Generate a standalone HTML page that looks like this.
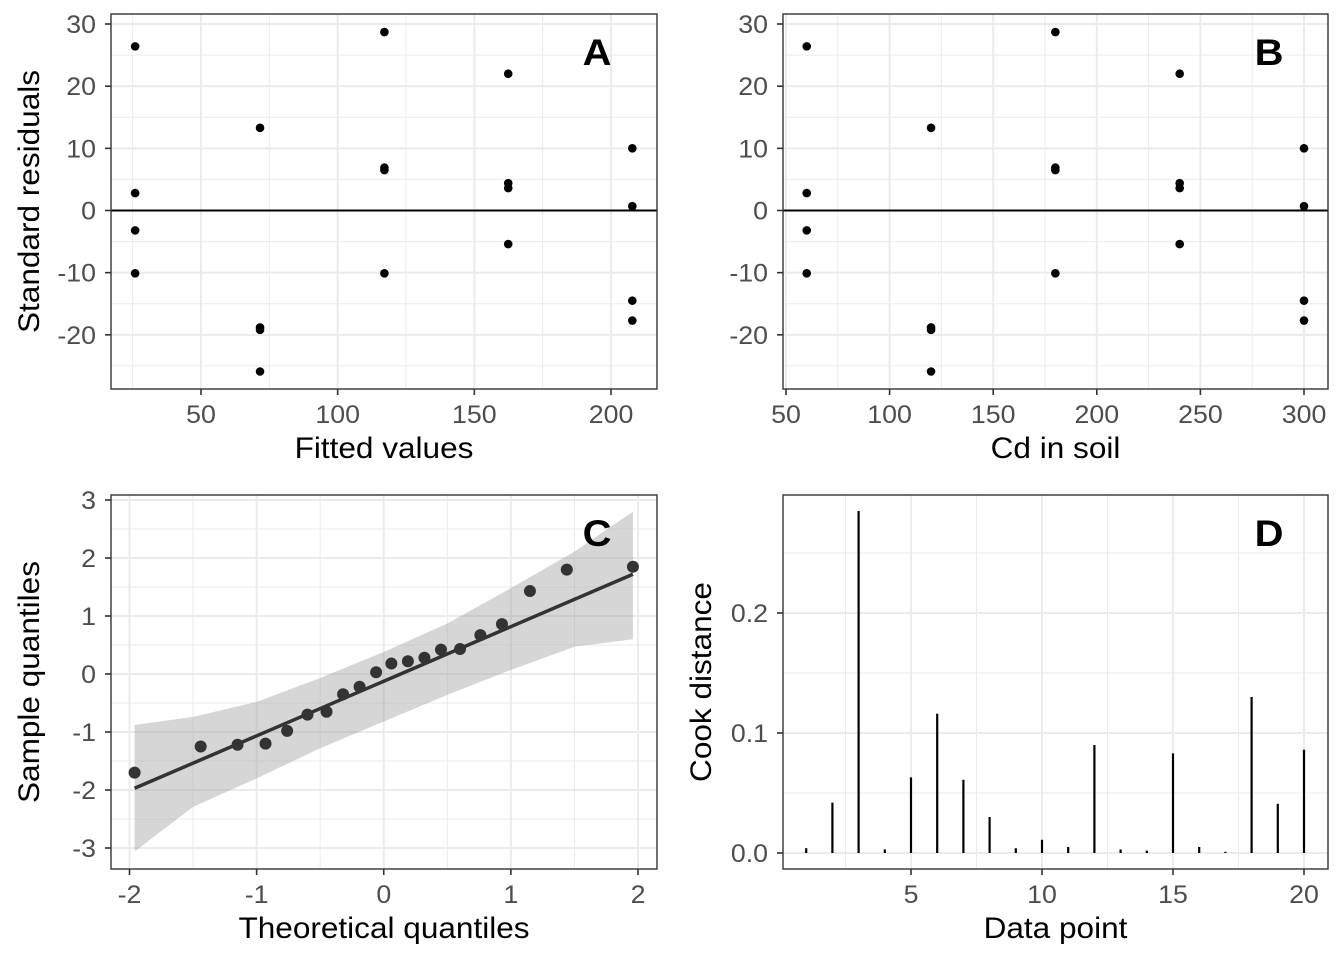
<!DOCTYPE html>
<html><head><meta charset="utf-8"><style>
body{margin:0;background:#fff;}
svg text{font-family:"Liberation Sans",Arial,sans-serif;}
</style></head><body>
<svg id="chart" width="1344" height="960" xmlns="http://www.w3.org/2000/svg"></svg>
<script>
// Panel A/B data
const cdLevels = [60, 120, 180, 240, 300];
const fittedLevels = [25.9, 71.6, 117.1, 162.4, 207.8];
const residuals = [
  [26.4, 2.8, -3.2, -10.1],
  [13.3, -18.8, -19.2, -25.9],
  [28.7, 6.9, 6.5, -10.1],
  [22.0, 4.4, 3.6, -5.4],
  [10.0, 0.7, -14.5, -17.7]
];
// Panel C data
const theoQ = [-1.96,-1.44,-1.15,-0.93,-0.76,-0.60,-0.45,-0.32,-0.19,-0.06,0.06,0.19,0.32,0.45,0.60,0.76,0.93,1.15,1.44,1.96];
const sampleQ = [-1.70,-1.25,-1.22,-1.20,-0.98,-0.70,-0.65,-0.35,-0.22,0.03,0.18,0.22,0.28,0.42,0.43,0.67,0.86,1.43,1.80,1.85];
const qqLineX = [-1.96, 1.96];
const qqLineY = [-1.97, 1.72];
const bandX = [-1.96,-1.5,-1.0,-0.5,0,0.5,1.0,1.5,1.96];
const bandLow = [-3.06,-2.29,-1.80,-1.28,-0.82,-0.36,0.07,0.47,0.60];
const bandHigh = [-0.88,-0.74,-0.48,-0.07,0.38,0.87,1.48,2.11,2.80];
// Panel D data
const dataPoints = [1,2,3,4,5,6,7,8,9,10,11,12,13,14,15,16,17,18,19,20];
const cookD = [0.004,0.042,0.285,0.003,0.063,0.116,0.061,0.030,0.004,0.011,0.005,0.090,0.003,0.002,0.083,0.005,0.001,0.130,0.041,0.086];
// tick labels
const ticksA_x=[50,100,150,200], ticksB_x=[50,100,150,200,250,300], ticksAB_y=[-20,-10,0,10,20,30];
const ticksC_x=[-2,-1,0,1,2], ticksC_y=[-3,-2,-1,0,1,2,3];
const ticksD_x=[5,10,15,20], ticksD_y=[0,0.1,0.2];

const svg=document.getElementById('chart');
const NS='http://www.w3.org/2000/svg';
const SX=1.07;
function el(tag,attrs,parent){const e=document.createElementNS(NS,tag);for(const k in attrs)e.setAttribute(k,attrs[k]);(parent||svg).appendChild(e);return e;}
function lin(d0,d1,r0,r1){return v=>r0+(v-d0)*(r1-r0)/(d1-d0);}
function txt(g,x,y,s,anchor,size,fill,weight,rot){
  const t=el('text',{x:0,y:0,'text-anchor':anchor,'font-size':size,fill:fill,'font-weight':weight||'normal',
    transform:`translate(${x},${y})${rot?' rotate(-90)':''} scale(${SX},1)`},g);
  t.textContent=s;return t;}

function panel(o){
  const g=el('g',{});
  
  
  const {L,T,R,B,sx,sy}=o;
  o.minorX.forEach(v=>{const l=el('line',{x1:sx(v),x2:sx(v),y1:T,y2:B,stroke:'#ebebeb','stroke-width':1},g);});
  o.minorY.forEach(v=>{const l=el('line',{x1:L,x2:R,y1:sy(v),y2:sy(v),stroke:'#ebebeb','stroke-width':1},g);});
  o.tx.forEach(v=>{const l=el('line',{x1:sx(v),x2:sx(v),y1:T,y2:B,stroke:'#ebebeb','stroke-width':2},g);});
  o.ty.forEach(v=>{const l=el('line',{x1:L,x2:R,y1:sy(v),y2:sy(v),stroke:'#ebebeb','stroke-width':2},g);});
  o.draw(g);
  const b=el('rect',{x:L,y:T,width:R-L,height:B-T,fill:'none',stroke:'#333','stroke-width':1.4},g);
  
  o.tx.forEach(v=>{el('line',{x1:sx(v),x2:sx(v),y1:B,y2:B+6,stroke:'#333','stroke-width':1.6},g);
    const t=txt(g,sx(v),B+34,o.fx?o.fx(v):String(v),'middle',25,'#4d4d4d');
    });
  o.ty.forEach(v=>{el('line',{x1:L-6,x2:L,y1:sy(v),y2:sy(v),stroke:'#333','stroke-width':1.6},g);
    const t=txt(g,L-15,sy(v)+9,o.fy?o.fy(v):String(v),'end',25,'#4d4d4d');
    });
  const xt=txt(g,(L+R)/2,B+69,o.xlab,'middle',29.5,'#000');
  
  if(o.ylab){const yt=txt(g,o.ylx,(T+B)/2,o.ylab,'middle',29.5,'#000',null,true);
    }
  const lt=el('text',{x:0,y:0,'text-anchor':'middle','font-size':37,'font-weight':'bold',fill:'#000',transform:`translate(${o.letterX},${T+51}) scale(1.08,1)`},g);lt.textContent=o.letter;
  
}

function residDraw(xs,sx,sy,R,L){return g=>{
  const h=el('line',{x1:L,x2:R,y1:sy(0),y2:sy(0),stroke:'#000','stroke-width':2},g);
  
  xs.forEach((x,i)=>residuals[i].forEach(r=>{const c=el('circle',{cx:sx(x),cy:sy(r),r:4.3,fill:'#000'},g);
    }));
};}

// Panel A
(()=>{const L=111,T=14,R=657,B=389;const sx=lin(50,200,201,611),sy=lin(0,30,210.5,24);
panel({name:'panel-a',L,T,R,B,sx,sy,tx:ticksA_x,ty:ticksAB_y,minorX:[25,75,125,175],minorY:[-25,-15,-5,5,15,25],
 xlab:'Fitted values',ylab:'Standard residuals',ylx:39,letter:'A',letterX:597,draw:residDraw(fittedLevels,sx,sy,R,L)});})();
// Panel B
(()=>{const L=783,T=14,R=1328,B=389;const sx=lin(50,300,786,1304),sy=lin(0,30,210.5,24);
panel({name:'panel-b',L,T,R,B,sx,sy,tx:ticksB_x,ty:ticksAB_y,minorX:[75,125,175,225,275],minorY:[-25,-15,-5,5,15,25],
 xlab:'Cd in soil',letter:'B',letterX:1269,draw:residDraw(cdLevels,sx,sy,R,L)});})();
// Panel C
(()=>{const L=111,T=495,R=657,B=869;const sx=lin(-2,2,129.5,638),sy=lin(0,3,674,500);
panel({name:'panel-c',L,T,R,B,sx,sy,tx:ticksC_x,ty:ticksC_y,minorX:[-1.5,-0.5,0.5,1.5],minorY:[-2.5,-1.5,-0.5,0.5,1.5,2.5],
 xlab:'Theoretical quantiles',ylab:'Sample quantiles',ylx:39,letter:'C',letterX:597,draw:g=>{
  let d='';bandX.forEach((x,i)=>d+=(i?'L':'M')+sx(x)+','+sy(bandHigh[i]));
  for(let i=bandX.length-1;i>=0;i--)d+='L'+sx(bandX[i])+','+sy(bandLow[i]);
  const p=el('path',{d:d+'Z',fill:'#999','fill-opacity':0.4},g);
  const l=el('line',{x1:sx(qqLineX[0]),y1:sy(qqLineY[0]),x2:sx(qqLineX[1]),y2:sy(qqLineY[1]),stroke:'#333','stroke-width':3.5},g);
  
  theoQ.forEach((x,i)=>{const c=el('circle',{cx:sx(x),cy:sy(sampleQ[i]),r:6,fill:'#333'},g);});
 }});})();
// Panel D
(()=>{const L=783,T=495,R=1328,B=869;const sx=lin(5,20,911,1304),sy=lin(0,0.2,853,613);
panel({name:'panel-d',L,T,R,B,sx,sy,tx:ticksD_x,ty:ticksD_y,minorX:[2.5,7.5,12.5,17.5],minorY:[0.05,0.15,0.25],
 fy:v=>v.toFixed(1),xlab:'Data point',ylab:'Cook distance',ylx:711,letter:'D',letterX:1269,draw:g=>{
  dataPoints.forEach((x,i)=>{const l=el('line',{x1:sx(x),x2:sx(x),y1:sy(0),y2:sy(cookD[i]),stroke:'#000','stroke-width':2.2},g);
   });
 }});})();
</script>
</body></html>
